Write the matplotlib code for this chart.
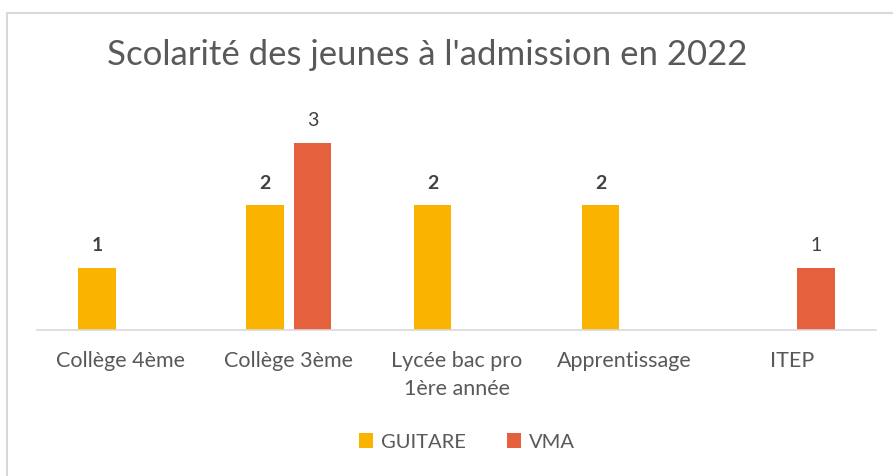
import matplotlib.pyplot as plt
from matplotlib.patches import Rectangle
import numpy as np

plt.rcParams['font.family'] = ['Lato', 'DejaVu Sans']

categories = ['Collège 4ème', 'Collège 3ème', 'Lycée bac pro\n1ère année', 'Apprentissage', 'ITEP']
guitare = [1, 2, 2, 2, 0]
vma = [0, 3, 0, 0, 1]
series_names = ['GUITARE', 'VMA']
colors = ['#FAB400', '#E5603D']

fig = plt.figure(figsize=(8.93, 4.76), dpi=100)
ax = fig.add_axes([37/893, 146/476, 839/893, 218/476])

x = np.arange(len(categories))
w = 0.223
off = 0.1415

# barres avec etiquettes (gras pour GUITARE, normal pour VMA)
for vals, dx, col, name, weight in [(guitare, -off, colors[0], series_names[0], 'bold'),
                                     (vma, off, colors[1], series_names[1], 'normal')]:
    for xi, v in zip(x, vals):
        if v == 0:
            continue
        ax.bar(xi + dx, v, width=w, color=col)
        ax.annotate(str(v), (xi + dx, v), xytext=(0, 10), textcoords='offset points',
                    ha='center', va='bottom', fontsize=14, color='#404040', fontweight=weight)
    ax.bar([0], [0], width=0, color=col, label=name)

ax.set_xlim(-0.5, 4.5)
ax.set_ylim(0, 3.5)
ax.set_yticks([])
ax.set_xticks(x)
ax.set_xticklabels(categories, fontsize=15.5, color='#595959', linespacing=1.5)
ax.tick_params(axis='x', length=0, pad=15)
for s in ['top', 'right', 'left']:
    ax.spines[s].set_visible(False)
ax.spines['bottom'].set_color('#d9d9d9')
ax.spines['bottom'].set_linewidth(1.2)

fig.text(427/893, 1 - 55/476, "Scolarité des jeunes à l'admission en 2022",
         ha='center', va='center', fontsize=25, color='#595959')

handles, labels = ax.get_legend_handles_labels()
fig.legend(handles, labels, loc='center', bbox_to_anchor=(467/893, 1 - 442/476), ncol=2,
           frameon=False, fontsize=14.5, labelcolor='#595959', handlelength=0.7,
           handleheight=0.7, handletextpad=0.4, columnspacing=2.0)

fig.patches.append(Rectangle((7/893, -0.1), 1.2, 0.1 + 1 - 13/476, transform=fig.transFigure,
                             fill=False, edgecolor='#d9d9d9', linewidth=1.5))

plt.savefig('out.png', dpi=100)
